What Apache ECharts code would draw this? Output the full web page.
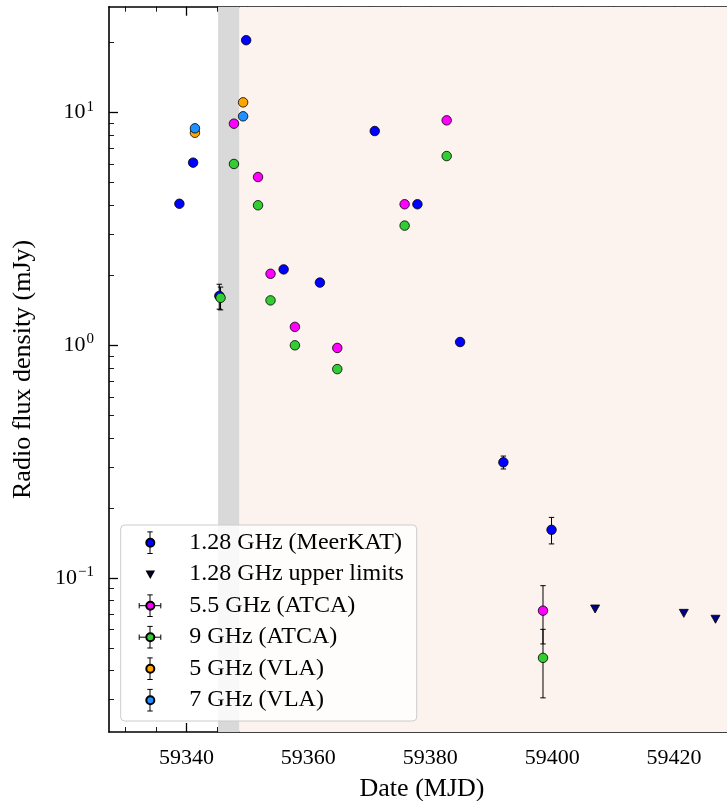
<!DOCTYPE html>
<html>
<head>
<meta charset="utf-8">
<script src="https://cdn.jsdelivr.net/npm/echarts@6.0.0/dist/echarts.min.js"></script>
<style>
  html, body { margin: 0; padding: 0; background: #fff; }
  #chart { width: 727px; height: 801px; }
</style>
</head>
<body>
<div id="chart"></div>
<script>
// 1.28 GHz MeerKAT detections (MJD, mJy, 1 sigma)
var meerkatMjd  = [59338.85, 59341.1, 59345.4, 59349.8, 59355.95, 59361.9, 59370.9, 59377.9, 59384.9, 59392.0, 59399.9];
var meerkatFlux = [4.06, 6.10, 1.63, 20.5, 2.12, 1.86, 8.34, 4.04, 1.033, 0.314, 0.161];
var meerkatErr  = [0, 0, 0.20, 0, 0, 0, 0, 0, 0, 0.020, 0.021];

// 1.28 GHz upper limits
var limitMjd  = [59407.05, 59421.6, 59426.8];
var limitFlux = [0.0735, 0.0704, 0.0664];

// ATCA 5.5 GHz
var atca55Mjd  = [59347.8, 59351.75, 59353.8, 59357.8, 59364.75, 59375.8, 59382.7, 59398.5];
var atca55Flux = [8.97, 5.29, 2.03, 1.20, 0.974, 4.04, 9.27, 0.0723];
var atca55Err  = [0, 0, 0, 0, 0, 0, 0, 0.0203];

// ATCA 9 GHz
var atca9Mjd  = [59345.6, 59347.8, 59351.75, 59353.8, 59357.8, 59364.75, 59375.8, 59382.7, 59398.5];
var atca9Flux = [1.60, 6.02, 4.00, 1.56, 1.00, 0.79, 3.27, 6.51, 0.0453];
var atca9Err  = [0.18, 0, 0, 0, 0, 0, 0, 0, 0.0148];

// VLA
var vla5Mjd  = [59341.4, 59349.3];
var vla5Flux = [8.20, 11.08];
var vla7Mjd  = [59341.4, 59349.3];
var vla7Flux = [8.57, 9.65];

// shaded epochs
var bandStart = [59345.2, 59348.7];
var bandEnd   = [59348.7, 59430];

// ticks
var xMajor = [59340, 59360, 59380, 59400, 59420];
var xMinor = [59330, 59335, 59345, 59350, 59355, 59365, 59370, 59375, 59385, 59390, 59395,
              59405, 59410, 59415, 59425, 59430];
var yMajor = [0.1, 1, 10];
var yMinor = [0.03, 0.04, 0.05, 0.06, 0.07, 0.08, 0.09, 0.2, 0.3, 0.4, 0.5, 0.6, 0.7, 0.8, 0.9,
              2, 3, 4, 5, 6, 7, 8, 9, 20];

var legendNames = ['1.28 GHz (MeerKAT)', '1.28 GHz upper limits', '5.5 GHz (ATCA)',
                   '9 GHz (ATCA)', '5 GHz (VLA)', '7 GHz (VLA)'];

var FONT = 'Liberation Serif';
var xMin = 59327.3, xMax = 59430;
var yMin = Math.log10(0.02175), yMax = Math.log10(28.56);
var bandColors = ['#d9d9d9', '#fdf3ee'];

function lg(arr) { return arr.map(function (v) { return Math.log10(v); }); }

function xAxis(pos, ticks, len, w, main) {
  return {
    type: 'value', position: pos, min: xMin, max: xMax,
    axisLine: { show: main, onZero: false, lineStyle: { color: '#000', width: 1.6 } },
    axisTick: { show: true, inside: true, length: len, customValues: ticks,
                lineStyle: { color: '#000', width: w } },
    axisLabel: (main && pos === 'bottom') ? {
      show: true, customValues: ticks, margin: 15, color: '#000',
      fontFamily: FONT, fontSize: 22,
      formatter: function (v) { return String(Math.round(v)); }
    } : { show: false },
    splitLine: { show: false },
    name: (main && pos === 'bottom') ? 'Date (MJD)' : '',
    nameLocation: 'middle', nameGap: 44,
    nameTextStyle: { fontFamily: FONT, fontSize: 26, color: '#000' }
  };
}

function yAxis(pos, ticks, len, w, main) {
  return {
    type: 'value', position: pos, min: yMin, max: yMax,
    axisLine: { show: main, onZero: false, lineStyle: { color: '#000', width: 1.6 } },
    axisTick: { show: true, inside: true, length: len, customValues: lg(ticks),
                lineStyle: { color: '#000', width: w } },
    axisLabel: (main && pos === 'left') ? {
      show: true, customValues: lg(ticks), margin: 15, color: '#000',
      formatter: function (v) {
        var n = Math.round(v);
        return '{b|10}{s|' + (n < 0 ? '\u2212' + (-n) : n) + '}';
      },
      rich: {
        b: { fontFamily: FONT, fontSize: 22, lineHeight: 22, color: '#000' },
        s: { fontFamily: FONT, fontSize: 15, lineHeight: 15, color: '#000', padding: [0, 0, 12, 1] }
      }
    } : { show: false },
    splitLine: { show: false },
    name: (main && pos === 'left') ? 'Radio flux density (mJy)' : '',
    nameLocation: 'middle', nameGap: 73,
    nameTextStyle: { fontFamily: FONT, fontSize: 26, color: '#000' }
  };
}

function errorBars(xs, ys, errs) {
  var data = [];
  xs.forEach(function (x, i) {
    if (errs[i] > 0) data.push([x, Math.log10(ys[i] + errs[i]), Math.log10(ys[i] - errs[i])]);
  });
  return {
    type: 'custom', silent: true, z: 2, data: data,
    encode: { x: 0, y: [1, 2] },
    renderItem: function (params, api) {
      var t = api.coord([api.value(0), api.value(1)]);
      var b = api.coord([api.value(0), api.value(2)]);
      var c = 2.7, st = { stroke: '#000', lineWidth: 1 };
      return { type: 'group', children: [
        { type: 'line', shape: { x1: t[0], y1: t[1], x2: b[0], y2: b[1] }, style: st },
        { type: 'line', shape: { x1: t[0] - c, y1: t[1], x2: t[0] + c, y2: t[1] }, style: st },
        { type: 'line', shape: { x1: b[0] - c, y1: b[1], x2: b[0] + c, y2: b[1] }, style: st }
      ] };
    }
  };
}

function points(name, xs, ys, color, symbol, size) {
  return {
    type: 'scatter', name: name, z: 2,
    data: xs.map(function (x, i) { return [x, Math.log10(ys[i])]; }),
    symbol: symbol || 'circle', symbolSize: size || 9.5,
    itemStyle: { color: color, borderColor: '#000', borderWidth: 0.8, opacity: 1 },
    emphasis: { disabled: true }
  };
}

var TRI = 'path://M0,0 L10,0 L5,9 Z';
// same triangle with some empty room around it, so the legend icon comes out smaller
var TRI_LEGEND = 'path://M-2,-2 L-2,-2 M12,11 L12,11 M0,0 L10,0 L5,9 Z';
var colors = ['#0000ff', '#000080', '#ff00ff', '#32cd32', '#ffa500', '#1e90ff'];

var series = [
  {
    type: 'custom', silent: true, z: 1, clip: true,
    data: bandStart.map(function (s, i) { return [s, bandEnd[i]]; }),
    encode: { x: [0, 1] },
    renderItem: function (params, api) {
      var p0 = api.coord([api.value(0), yMax]);
      var p1 = api.coord([api.value(1), yMin]);
      return { type: 'rect',
        shape: { x: p0[0], y: p0[1], width: p1[0] - p0[0], height: p1[1] - p0[1] },
        style: { fill: bandColors[params.dataIndex] } };
    }
  },
  errorBars(meerkatMjd, meerkatFlux, meerkatErr),
  points(legendNames[0], meerkatMjd, meerkatFlux, colors[0]),
  points(legendNames[1], limitMjd, limitFlux, colors[1], TRI, [9, 8]),
  errorBars(atca55Mjd, atca55Flux, atca55Err),
  points(legendNames[2], atca55Mjd, atca55Flux, colors[2]),
  errorBars(atca9Mjd, atca9Flux, atca9Err),
  points(legendNames[3], atca9Mjd, atca9Flux, colors[3]),
  points(legendNames[4], vla5Mjd, vla5Flux, colors[4]),
  points(legendNames[5], vla7Mjd, vla7Flux, colors[5])
];

// legend frame and error-bar glyphs
var LX = 120.7, LY = 525, LW = 296, LH = 196;
var rowY0 = 542.7, rowStep = 31.5, iconX = 150, eb = 10.8, cap = 2.7;
var hasY = [true, false, true, true, true, true];
var hasX = [false, false, true, true, false, false];
var glyphs = [{
  type: 'rect', z: 3, silent: true,
  shape: { x: LX, y: LY, width: LW, height: LH, r: 4 },
  style: { fill: 'rgba(255,255,255,0.8)', stroke: '#cccccc', lineWidth: 1 }
}];
var gst = { stroke: '#000', lineWidth: 1 };
legendNames.forEach(function (n, i) {
  var cy = rowY0 + i * rowStep;
  if (hasY[i]) {
    glyphs.push({ type: 'line', z: 3, silent: true, shape: { x1: iconX, y1: cy - eb, x2: iconX, y2: cy + eb }, style: gst });
    glyphs.push({ type: 'line', z: 3, silent: true, shape: { x1: iconX - cap, y1: cy - eb, x2: iconX + cap, y2: cy - eb }, style: gst });
    glyphs.push({ type: 'line', z: 3, silent: true, shape: { x1: iconX - cap, y1: cy + eb, x2: iconX + cap, y2: cy + eb }, style: gst });
  }
  if (hasX[i]) {
    glyphs.push({ type: 'line', z: 3, silent: true, shape: { x1: iconX - eb, y1: cy, x2: iconX + eb, y2: cy }, style: gst });
    glyphs.push({ type: 'line', z: 3, silent: true, shape: { x1: iconX - eb, y1: cy - cap, x2: iconX - eb, y2: cy + cap }, style: gst });
    glyphs.push({ type: 'line', z: 3, silent: true, shape: { x1: iconX + eb, y1: cy - cap, x2: iconX + eb, y2: cy + cap }, style: gst });
  }
});

var chart = echarts.init(document.getElementById('chart'));
chart.setOption({
  backgroundColor: '#fff',
  animation: false,
  grid: { left: 109, right: -8, top: 6.7, bottom: 69, containLabel: false, outerBoundsMode: 'none' },
  xAxis: [
    xAxis('bottom', xMajor, 9, 1.3, true),
    xAxis('bottom', xMinor, 5, 0.9, false),
    xAxis('top', xMajor, 9, 1.3, true),
    xAxis('top', xMinor, 5, 0.9, false)
  ],
  yAxis: [
    yAxis('left', yMajor, 9, 1.3, true),
    yAxis('left', yMinor, 5, 0.9, false),
    yAxis('right', yMajor, 9, 1.3, true),
    yAxis('right', yMinor, 5, 0.9, false)
  ],
  legend: {
    orient: 'vertical', left: LX, top: LY, padding: [5.7, 0, 0, 24.3],
    itemWidth: 20, itemHeight: 8, itemGap: 7.5, selectedMode: false, z: 4,
    textStyle: { fontFamily: FONT, fontSize: 24, color: '#000', lineHeight: 24, padding: [0, 0, 0, 24] },
    data: legendNames.map(function (n, i) {
      return { name: n, icon: i === 1 ? TRI_LEGEND : 'circle' };
    })
  },
  graphic: glyphs,
  series: series
});
</script>
</body>
</html>
